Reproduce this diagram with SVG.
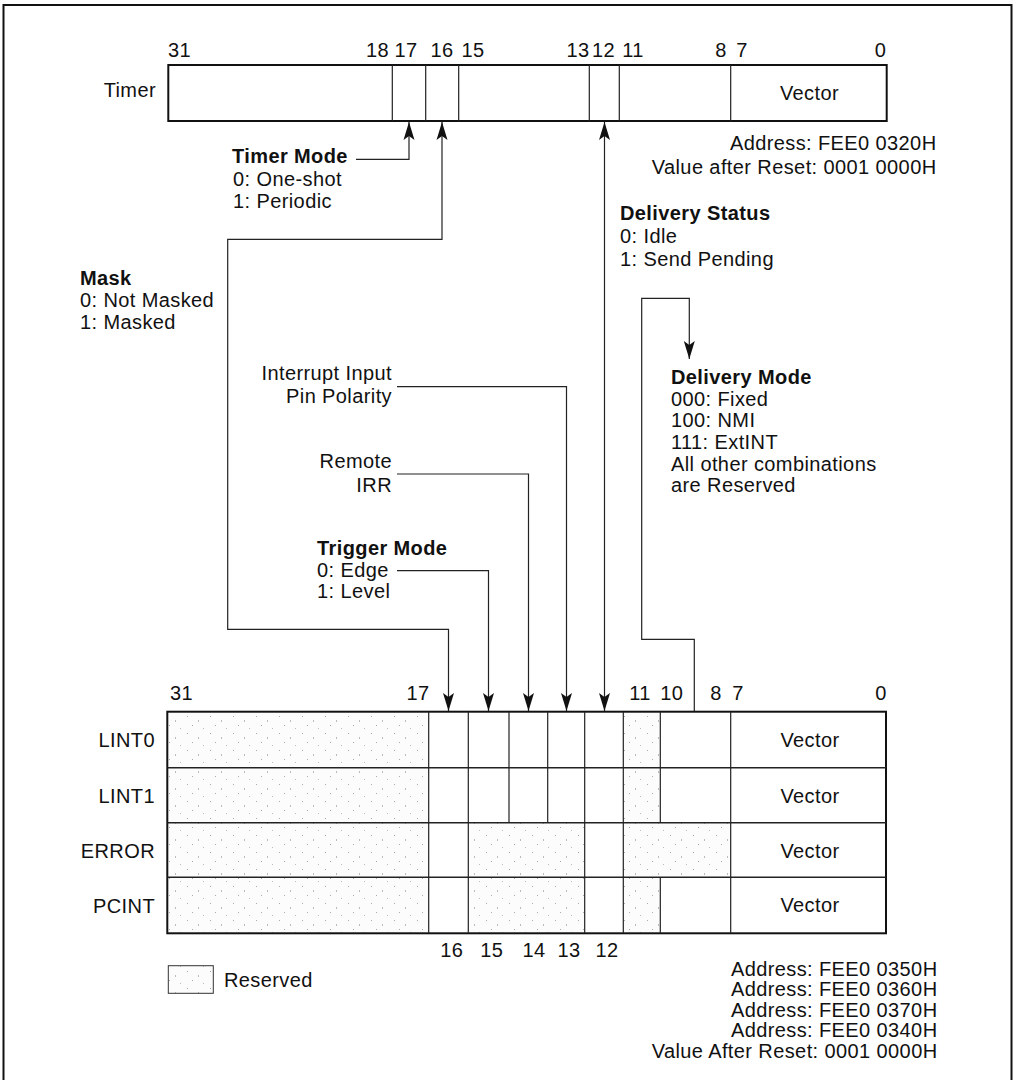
<svg xmlns="http://www.w3.org/2000/svg" width="1013" height="1080" viewBox="0 0 1013 1080">
<style>
text{font-family:"Liberation Sans",Arial,Helvetica,sans-serif;font-size:20px;fill:#111;letter-spacing:0.4px}
.b{font-weight:bold}
.m{text-anchor:middle}
.e{text-anchor:end}
.reg{fill:none;stroke:#111;stroke-width:2}
.div{stroke:#222;stroke-width:1.2;fill:none}
.row{stroke:#222;stroke-width:1.6;fill:none}
.res{fill:url(#dots);stroke:none}
.con{fill:none;stroke:#222;stroke-width:1.2}
.a2{marker-start:url(#ah);marker-end:url(#ah)}
.a1{marker-end:url(#ah)}
</style>
<defs>
<marker id="ah" viewBox="0 0 20 12" markerWidth="20" markerHeight="12" refX="18" refY="6" orient="auto-start-reverse" markerUnits="userSpaceOnUse">
<path d="M0,0.5 L18,6 L0,11.5 L4,6 Z" fill="#111"/>
</marker>
<pattern id="dots" width="23" height="17" patternUnits="userSpaceOnUse">
<rect width="23" height="17" fill="#fcfcfc"/>
<rect x="3" y="2" width="1" height="1" fill="#aaa"/>
<rect x="14" y="6" width="1" height="2" fill="#bbb"/>
<rect x="8" y="11" width="1" height="1" fill="#aaa"/>
<rect x="19" y="14" width="1" height="1" fill="#bbb"/>
</pattern>
</defs>

<rect id="frame" x="3.5" y="5" width="1008" height="1090" fill="#fff" stroke="#111" stroke-width="2"/>

<g id="timer-register">
<text x="156" y="97" class="e">Timer</text>
<text x="168" y="57">31</text>
<text x="377.5" y="57" class="m">18</text>
<text x="406" y="57" class="m">17</text>
<text x="442" y="57" class="m">16</text>
<text x="473" y="57" class="m">15</text>
<text x="578" y="57" class="m">13</text>
<text x="603.5" y="57" class="m">12</text>
<text x="633" y="57" class="m">11</text>
<text x="721" y="57" class="m">8</text>
<text x="742" y="57" class="m">7</text>
<text x="880.5" y="57" class="m">0</text>
<rect class="reg" x="168.3" y="65" width="718.4" height="56"/>
<path class="div" d="M392.3,65V121M425.7,65V121M458.7,65V121M589.3,65V121M619.3,65V121M730.7,65V121"/>
<text x="809.5" y="100" class="m">Vector</text>
<text x="936.5" y="149.5" class="e">Address: FEE0 0320H</text>
<text x="936.5" y="173.5" class="e">Value after Reset: 0001 0000H</text>
</g>

<g id="connectors">
<path class="con a1" d="M356,159.3H409V122"/>
<path class="con a2" d="M442,122V239.3H227.7V629.3H448.5V711"/>
<path class="con a2" d="M604.5,122V711"/>
<path class="con a1" d="M397,386.7H566.5V711"/>
<path class="con a1" d="M397,474H528.5V711"/>
<path class="con a1" d="M397,570.7H488.5V711"/>
<path class="con a1" d="M694.3,711V639.3H641.7V298.3H689.3V359"/>
</g>

<g id="timer-mode">
<text x="232" y="163" class="b">Timer Mode</text>
<text x="233" y="186">0: One-shot</text>
<text x="233" y="208">1: Periodic</text>
</g>

<g id="mask">
<text x="80" y="285" class="b">Mask</text>
<text x="80" y="307">0: Not Masked</text>
<text x="80" y="329">1: Masked</text>
</g>

<g id="delivery-status">
<text x="620" y="220" class="b">Delivery Status</text>
<text x="620" y="243">0: Idle</text>
<text x="620" y="266">1: Send Pending</text>
</g>

<g id="delivery-mode">
<text x="671" y="384" class="b">Delivery Mode</text>
<text x="671" y="406">000: Fixed</text>
<text x="671" y="427">100: NMI</text>
<text x="671" y="448.5">111: ExtINT</text>
<text x="671" y="470.5">All other combinations</text>
<text x="671" y="492">are Reserved</text>
</g>

<g id="pin-polarity">
<text x="392" y="380" class="e">Interrupt Input</text>
<text x="392" y="403" class="e">Pin Polarity</text>
</g>

<g id="remote-irr">
<text x="392" y="468" class="e">Remote</text>
<text x="392" y="492" class="e">IRR</text>
</g>

<g id="trigger-mode">
<text x="317" y="555" class="b">Trigger Mode</text>
<text x="317" y="577">0: Edge</text>
<text x="317" y="598">1: Level</text>
</g>

<g id="lvt-register">
<text x="170" y="700">31</text>
<text x="418" y="700" class="m">17</text>
<text x="640" y="700" class="m">11</text>
<text x="671.7" y="700" class="m">10</text>
<text x="716" y="700" class="m">8</text>
<text x="738" y="700" class="m">7</text>
<text x="881" y="700" class="m">0</text>

<rect class="res" x="167.3" y="711.7" width="261.4" height="221.6"/>
<rect class="res" x="623.3" y="711.7" width="37" height="221.6"/>
<rect class="res" x="468.3" y="822.7" width="116.4" height="110.6"/>
<rect class="res" x="660.3" y="822.7" width="70.4" height="54.6"/>

<rect class="reg" x="167.3" y="711.7" width="718.7" height="221.6"/>
<path class="row" d="M167.3,767.7H886M167.3,822.7H886M167.3,877.3H886"/>
<path class="div" d="M428.7,711.7V933.3M468.3,711.7V933.3M584.7,711.7V933.3M623.3,711.7V933.3M730.7,711.7V933.3M509,711.7V822.7M547.7,711.7V822.7M660.3,711.7V822.7M660.3,877.3V933.3"/>

<text x="155" y="747" class="e">LINT0</text>
<text x="155" y="803" class="e">LINT1</text>
<text x="155" y="858" class="e">ERROR</text>
<text x="155" y="913" class="e">PCINT</text>
<text x="810" y="747" class="m">Vector</text>
<text x="810" y="803" class="m">Vector</text>
<text x="810" y="858" class="m">Vector</text>
<text x="810" y="912" class="m">Vector</text>

<text x="451.7" y="957" class="m">16</text>
<text x="491.7" y="957" class="m">15</text>
<text x="534" y="957" class="m">14</text>
<text x="569" y="957" class="m">13</text>
<text x="607" y="957" class="m">12</text>

<text x="937.5" y="975.5" class="e">Address: FEE0 0350H</text>
<text x="937.5" y="996" class="e">Address: FEE0 0360H</text>
<text x="937.5" y="1016.5" class="e">Address: FEE0 0370H</text>
<text x="937.5" y="1037" class="e">Address: FEE0 0340H</text>
<text x="937.5" y="1057.5" class="e">Value After Reset: 0001 0000H</text>
</g>

<g id="legend">
<rect x="168.3" y="965.7" width="45" height="27.6" fill="url(#dots)" stroke="#333" stroke-width="1"/>
<text x="224" y="987">Reserved</text>
</g>
</svg>
